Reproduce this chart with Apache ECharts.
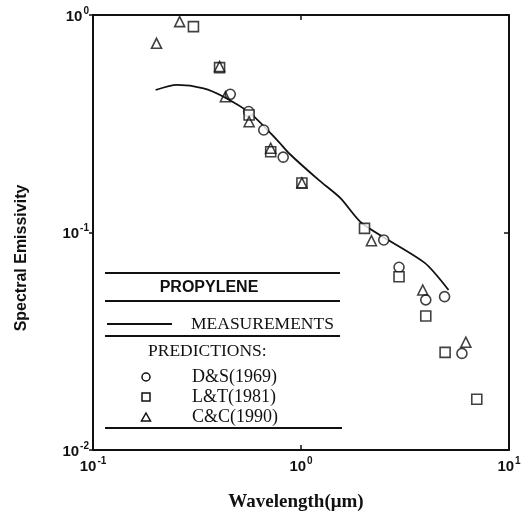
<!DOCTYPE html>
<html>
<head>
<meta charset="utf-8">
<script src="https://cdn.jsdelivr.net/npm/echarts@6/dist/echarts.min.js"></script>
<style>html,body{margin:0;padding:0;background:#fff}#c{width:523px;height:513px}</style>
</head>
<body>
<div id="c"></div>
<script>
// Measurements (solid line)
const measX = [0.200, 0.253, 0.340, 0.424, 0.571, 0.768, 0.883, 1.219, 1.551, 1.97, 3.92, 5.12];
const measY = [0.452, 0.477, 0.460, 0.421, 0.353, 0.266, 0.2296, 0.174, 0.1436, 0.110, 0.0727, 0.0544];
// D&S(1969) circles
const dsX = [0.457, 0.56, 0.662, 0.821, 2.5, 2.96, 3.98, 4.90, 5.94];
const dsY = [0.432, 0.360, 0.296, 0.222, 0.0924, 0.0692, 0.049, 0.0507, 0.0278];
// L&T(1981) squares
const ltX = [0.304, 0.406, 0.563, 0.715, 1.01, 2.02, 2.96, 3.98, 4.93, 7.0];
const ltY = [0.884, 0.573, 0.347, 0.235, 0.169, 0.1045, 0.0626, 0.0413, 0.0281, 0.0171];
// C&C(1990) triangles
const ccX = [0.202, 0.261, 0.406, 0.433, 0.563, 0.715, 1.01, 2.18, 3.85, 6.2];
const ccY = [0.741, 0.932, 0.580, 0.421, 0.323, 0.244, 0.169, 0.0917, 0.0544, 0.0313];
// axis ranges / labels
const xRange = [0.1, 10];
const yRange = [0.01, 1];
const xTitle = 'Wavelength(μm)';
const yTitle = 'Spectral Emissivity';
const legendTitle = 'PROPYLENE';
const lineLabel = 'MEASUREMENTS';
const predLabel = 'PREDICTIONS:';
const predNames = ['D&S(1969)', 'L&T(1981)', 'C&C(1990)'];

const zip = (xs, ys) => xs.map((x, i) => [x, ys[i]]);
const pow10 = v => '{b|10}{s|' + Math.round(Math.log10(v)) + '}';
const rich = {
  b: {fontFamily: 'Liberation Sans', fontWeight: 'bold', fontSize: 15, color: '#111', lineHeight: 18, verticalAlign: 'bottom'},
  s: {fontFamily: 'Liberation Sans', fontWeight: 'bold', fontSize: 10, color: '#111', lineHeight: 18, verticalAlign: 'top', padding: [0, 0, 5, 1]}
};
const symStyle = {color: '#fff', borderColor: '#111', borderWidth: 1.6};
const chart = echarts.init(document.getElementById('c'));
const frameAxis = {lineStyle: {color: '#111', width: 2}};
const serif = 'Liberation Serif';

const L = 105, R = 340;
const txt = (x, y, text, size, extra) => ({type: 'text', x: x, y: y, z: 11,
  style: Object.assign({text: text, fontFamily: serif, fontSize: size, fill: '#111', align: 'left', verticalAlign: 'middle'}, extra || {})});
const hline = (x1, x2, y) => ({type: 'line', shape: {x1: x1, y1: y, x2: x2, y2: y}, style: {stroke: '#111', lineWidth: 1.8}, z: 11});

chart.setOption({
  animation: false,
  backgroundColor: '#fff',
  grid: {left: 93, right: 14, top: 15, bottom: 63, containLabel: false, outerBoundsMode: 'none'},
  xAxis: [{
    type: 'log', logBase: 10, min: xRange[0], max: xRange[1],
    axisLine: frameAxis, axisTick: {inside: true, length: 5, lineStyle: {color: '#111', width: 1.5}},
    axisLabel: {formatter: pow10, rich: rich, margin: 6},
    splitLine: {show: false},
    name: xTitle, nameLocation: 'middle', nameGap: 43,
    nameTextStyle: {fontFamily: serif, fontWeight: 'bold', fontSize: 19, color: '#111', padding: [0, 0, 0, -10]}
  }, {
    type: 'log', logBase: 10, min: xRange[0], max: xRange[1], position: 'top',
    axisLine: frameAxis, axisTick: {inside: true, length: 5, lineStyle: {color: '#111', width: 1.5}},
    axisLabel: {show: false}, splitLine: {show: false}
  }],
  yAxis: [{
    type: 'log', logBase: 10, min: yRange[0], max: yRange[1],
    axisLine: frameAxis, axisTick: {inside: false, length: 4, lineStyle: {color: '#111', width: 1.5}},
    axisLabel: {formatter: pow10, rich: rich, margin: 4},
    splitLine: {show: false}
  }, {
    type: 'log', logBase: 10, min: yRange[0], max: yRange[1], position: 'right',
    axisLine: frameAxis, axisTick: {inside: true, length: 5, lineStyle: {color: '#111', width: 1.5}},
    axisLabel: {show: false}, splitLine: {show: false}
  }],
  series: [
    {name: lineLabel, type: 'line', data: zip(measX, measY), showSymbol: false, smooth: 0.25,
     lineStyle: {color: '#111', width: 1.8}, z: 2},
    {name: predNames[0], type: 'scatter', data: zip(dsX, dsY), symbol: 'circle', symbolSize: 10, itemStyle: symStyle, z: 3},
    {name: predNames[1], type: 'scatter', data: zip(ltX, ltY), symbol: 'rect', symbolSize: 10, itemStyle: symStyle, z: 3},
    {name: predNames[2], type: 'scatter', data: zip(ccX, ccY), symbol: 'triangle', symbolSize: 10, itemStyle: {color: 'rgba(255,255,255,0)', borderColor: '#111', borderWidth: 1.6}, z: 4}
  ],
  graphic: [
    {type: 'text', x: 22, y: 258, rotation: Math.PI / 2, z: 11,
     style: {text: yTitle, fontFamily: 'Liberation Sans', fontWeight: 'bold', fontSize: 16, fill: '#111', align: 'center', verticalAlign: 'middle'}},
    hline(L, R, 273),
    txt(209, 288, legendTitle, 16, {fontFamily: 'Liberation Sans', fontWeight: 'bold', align: 'center'}),
    hline(L, R, 301),
    hline(107, 172, 324),
    txt(191, 324, lineLabel, 17.5),
    hline(L, R, 336),
    txt(148, 351, predLabel, 17.5),
    {type: 'circle', shape: {cx: 146, cy: 377, r: 4}, style: {fill: '#fff', stroke: '#111', lineWidth: 1.5}, z: 11},
    txt(192, 377, predNames[0], 18),
    {type: 'rect', shape: {x: 142, y: 393, width: 8, height: 8}, style: {fill: '#fff', stroke: '#111', lineWidth: 1.5}, z: 11},
    txt(192, 397, predNames[1], 18),
    {type: 'polygon', shape: {points: [[146, 413], [150.5, 421], [141.5, 421]]}, style: {fill: '#fff', stroke: '#111', lineWidth: 1.5}, z: 11},
    txt(192, 417, predNames[2], 18),
    hline(L, R + 2, 428)
  ]
});
</script>
</body>
</html>
